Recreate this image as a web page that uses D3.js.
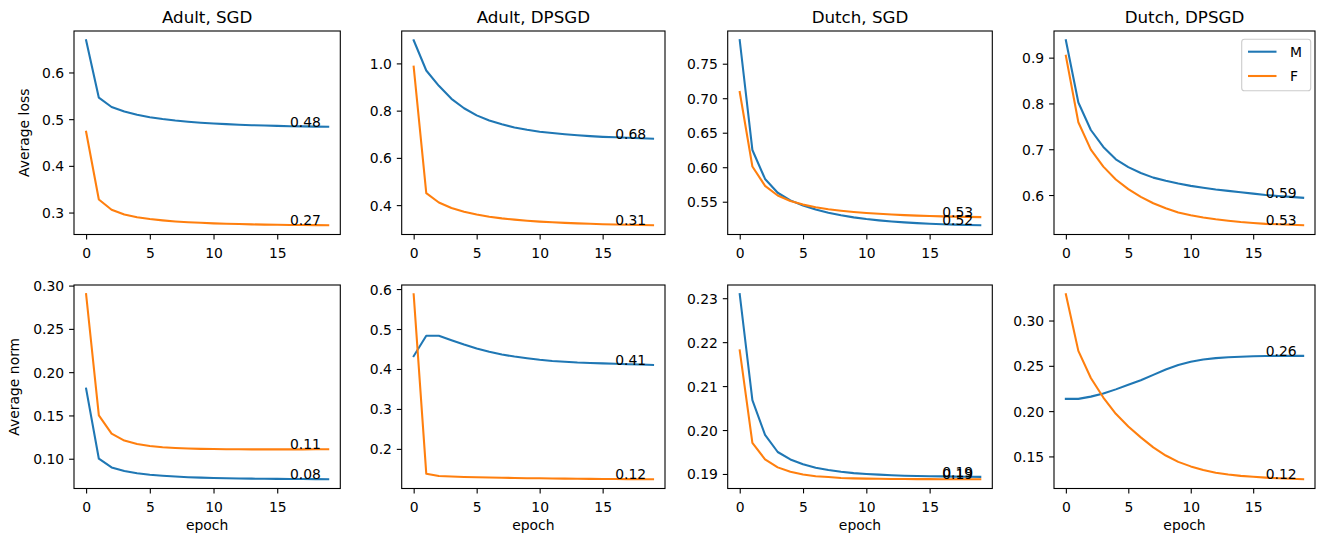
<!DOCTYPE html>
<html><head><meta charset="utf-8">
<script src="https://cdn.jsdelivr.net/npm/d3@7"></script>
<style>
body{margin:0;background:#fff;}
svg{display:block;font-family:"DejaVu Sans",sans-serif;}
</style></head><body>
<svg id="chart" width="1326" height="540"></svg>
<script>
const epochs = d3.range(0, 20);
const seriesNames = ["M", "F"];
const colTitles = ["Adult, SGD", "Adult, DPSGD", "Dutch, SGD", "Dutch, DPSGD"];
const rowLabels = ["Average loss", "Average norm"];
const xTicks = [0, 5, 10, 15];

// Row 1: average loss
const adultSgdLossM = [0.669,0.546,0.526,0.5165,0.5095,0.5042,0.5002,0.4970,0.4945,0.4924,0.4907,0.4893,0.4881,0.4871,0.4863,0.4856,0.4850,0.4845,0.4841,0.4838];
const adultSgdLossF = [0.473,0.328,0.306,0.2960,0.2900,0.2860,0.2832,0.2810,0.2793,0.2780,0.2769,0.2760,0.2753,0.2747,0.2742,0.2738,0.2735,0.2732,0.2730,0.2728];
const adultDpLossM  = [1.098,0.970,0.905,0.850,0.810,0.780,0.758,0.742,0.729,0.719,0.711,0.705,0.700,0.696,0.692,0.689,0.687,0.685,0.683,0.681];
const adultDpLossF  = [0.986,0.451,0.411,0.388,0.372,0.360,0.351,0.344,0.3385,0.3340,0.3302,0.3272,0.3247,0.3226,0.3208,0.3193,0.3180,0.3168,0.3158,0.3148];
const dutchSgdLossM = [0.784,0.625,0.583,0.563,0.552,0.5445,0.5387,0.5340,0.5303,0.5273,0.5249,0.5230,0.5214,0.5201,0.5190,0.5181,0.5174,0.5168,0.5163,0.5159];
const dutchSgdLossF = [0.709,0.601,0.573,0.559,0.551,0.5458,0.5420,0.5392,0.5370,0.5352,0.5337,0.5325,0.5315,0.5306,0.5299,0.5293,0.5288,0.5284,0.5280,0.5277];
const dutchDpLossM  = [0.938,0.802,0.742,0.705,0.678,0.661,0.648,0.638,0.631,0.625,0.620,0.616,0.612,0.609,0.606,0.603,0.600,0.598,0.596,0.594];
const dutchDpLossF  = [0.904,0.759,0.699,0.662,0.634,0.613,0.596,0.582,0.571,0.562,0.556,0.551,0.547,0.544,0.541,0.539,0.537,0.536,0.535,0.534];
// Row 2: average norm
const adultSgdNormM = [0.181,0.100,0.0900,0.0858,0.0832,0.0815,0.0803,0.0794,0.0787,0.0782,0.0778,0.0775,0.0772,0.0770,0.0768,0.0767,0.0766,0.0765,0.0764,0.0763];
const adultSgdNormF = [0.290,0.150,0.129,0.1210,0.1170,0.1147,0.1133,0.1124,0.1118,0.1114,0.1112,0.1110,0.1109,0.1108,0.1108,0.1108,0.1108,0.1108,0.1109,0.1110];
const adultDpNormM  = [0.432,0.483,0.483,0.472,0.461,0.451,0.443,0.436,0.431,0.427,0.423,0.420,0.418,0.416,0.415,0.414,0.413,0.412,0.411,0.410];
const adultDpNormF  = [0.587,0.138,0.1320,0.1308,0.1298,0.1290,0.1283,0.1277,0.1272,0.1267,0.1263,0.1259,0.1256,0.1253,0.1250,0.1248,0.1246,0.1244,0.1242,0.1240];
const dutchSgdNormM = [0.2309,0.2068,0.1989,0.1950,0.1933,0.1922,0.1914,0.1909,0.1905,0.1902,0.1900,0.18985,0.1897,0.1896,0.18955,0.1895,0.18945,0.1894,0.18937,0.18935];
const dutchSgdNormF = [0.2181,0.1971,0.1933,0.1915,0.1905,0.1899,0.1895,0.1893,0.1891,0.1890,0.18895,0.1889,0.18887,0.18885,0.18883,0.18882,0.18881,0.1888,0.1888,0.1888];
const dutchDpNormM  = [0.2135,0.2135,0.2160,0.2195,0.2240,0.2290,0.2340,0.2400,0.2460,0.2510,0.2545,0.2570,0.2585,0.2595,0.2600,0.2605,0.2608,0.2610,0.2610,0.2610];
const dutchDpNormF  = [0.3290,0.2665,0.2365,0.2150,0.1970,0.1830,0.1710,0.1600,0.1510,0.1440,0.1390,0.1350,0.1320,0.1300,0.1285,0.1275,0.1266,0.1259,0.1253,0.1248];

const yTicks = [
  [0.3,0.4,0.5,0.6], [0.4,0.6,0.8,1.0], [0.55,0.60,0.65,0.70,0.75], [0.6,0.7,0.8,0.9],
  [0.10,0.15,0.20,0.25,0.30], [0.2,0.3,0.4,0.5,0.6], [0.19,0.20,0.21,0.22,0.23], [0.15,0.20,0.25,0.30]
];
const yTickFormats = [".1f",".1f",".2f",".1f",".2f",".1f",".2f",".2f"];

const panelData = [
  [adultSgdLossM, adultSgdLossF], [adultDpLossM, adultDpLossF], [dutchSgdLossM, dutchSgdLossF], [dutchDpLossM, dutchDpLossF],
  [adultSgdNormM, adultSgdNormF], [adultDpNormM, adultDpNormF], [dutchSgdNormM, dutchSgdNormF], [dutchDpNormM, dutchDpNormF]
];

const colors = ["#1f77b4", "#ff7f0e"];
const colL = [74, 401.7, 727.7, 1054];
const colR = [340.3, 665, 992.3, 1315];
const rowT = [31, 285];
const rowB = [234.5, 488.5];
const FS = 13.9;

const svg = d3.select("#chart");

panelData.forEach((pair, i) => {
  const r = Math.floor(i / 4), c = i % 4;
  const x0 = colL[c], x1 = colR[c], y0 = rowT[r], y1 = rowB[r];
  const x = d3.scaleLinear().domain([-0.95, 19.95]).range([x0, x1]);
  const all = pair.flat();
  const mn = d3.min(all), mx = d3.max(all), pad = (mx - mn) * 0.05;
  const y = d3.scaleLinear().domain([mn - pad, mx + pad]).range([y1, y0]);
  const g = svg.append("g");

  // lines
  const line = d3.line().x((d, k) => x(epochs[k])).y(d => y(d));
  pair.forEach((vals, s) => {
    g.append("path").datum(vals).attr("d", line)
      .attr("fill", "none").attr("stroke", colors[s]).attr("stroke-width", 2.08)
      .attr("stroke-linejoin", "round").attr("stroke-linecap", "square");
  });

  // annotations
  pair.forEach((vals) => {
    const last = vals[vals.length - 1];
    g.append("text").attr("x", x(16)).attr("y", y(last))
      .attr("font-size", FS).attr("fill", "#000")
      .text(d3.format(".2f")(last));
  });

  // axes
  const xa = g.append("g").attr("transform", `translate(0,${y1})`)
    .call(d3.axisBottom(x).tickValues(xTicks).tickSize(4.9).tickPadding(4.9).tickFormat(d3.format("d")));
  xa.select(".domain").remove();
  xa.selectAll("text").attr("font-size", FS).attr("font-family", "DejaVu Sans").attr("fill", "#000")
    .attr("dy", null).attr("y", 23.8);
  xa.selectAll("line").attr("stroke-width", 1.1);

  const ya = g.append("g").attr("transform", `translate(${x0},0)`)
    .call(d3.axisLeft(y).tickValues(yTicks[i]).tickSize(4.9).tickPadding(4.9).tickFormat(d3.format(yTickFormats[i])));
  ya.select(".domain").remove();
  ya.selectAll("text").attr("font-size", FS).attr("font-family", "DejaVu Sans").attr("fill", "#000").attr("dy", "0.36em");
  ya.selectAll("line").attr("stroke-width", 1.1);

  // frame
  g.append("rect").attr("x", x0).attr("y", y0).attr("width", x1 - x0).attr("height", y1 - y0)
    .attr("fill", "none").attr("stroke", "#000").attr("stroke-width", 1.1);

  if (r === 0) {
    g.append("text").attr("x", (x0 + x1) / 2).attr("y", y0 - 8.5)
      .attr("text-anchor", "middle").attr("font-size", 16.7).attr("fill", "#000").text(colTitles[c]);
  }
  if (r === 1) {
    g.append("text").attr("x", (x0 + x1) / 2).attr("y", 529.5)
      .attr("text-anchor", "middle").attr("font-size", FS).attr("fill", "#000").text("epoch");
  }
  if (c === 0) {
    const lx = r === 0 ? 28.5 : 18.5;
    g.append("text").attr("transform", `translate(${lx},${(y0 + y1) / 2}) rotate(-90)`)
      .attr("text-anchor", "middle").attr("font-size", FS).attr("fill", "#000").text(rowLabels[r]);
  }

  if (i === 3) {
    const lg = g.append("g");
    lg.append("rect").attr("x", 1241.7).attr("y", 39.3).attr("width", 69).attr("height", 51.4)
      .attr("rx", 2.8).attr("fill", "#fff").attr("fill-opacity", 0.8).attr("stroke", "#cccccc").attr("stroke-width", 1.1);
    seriesNames.forEach((nm, s) => {
      const ly = 51.7 + s * 24.3;
      lg.append("line").attr("x1", 1248).attr("x2", 1276.5).attr("y1", ly).attr("y2", ly)
        .attr("stroke", colors[s]).attr("stroke-width", 2.08);
      lg.append("text").attr("x", 1290).attr("y", ly + 5.4).attr("font-size", FS).attr("fill", "#000").text(nm);
    });
  }
});
</script>
</body></html>
